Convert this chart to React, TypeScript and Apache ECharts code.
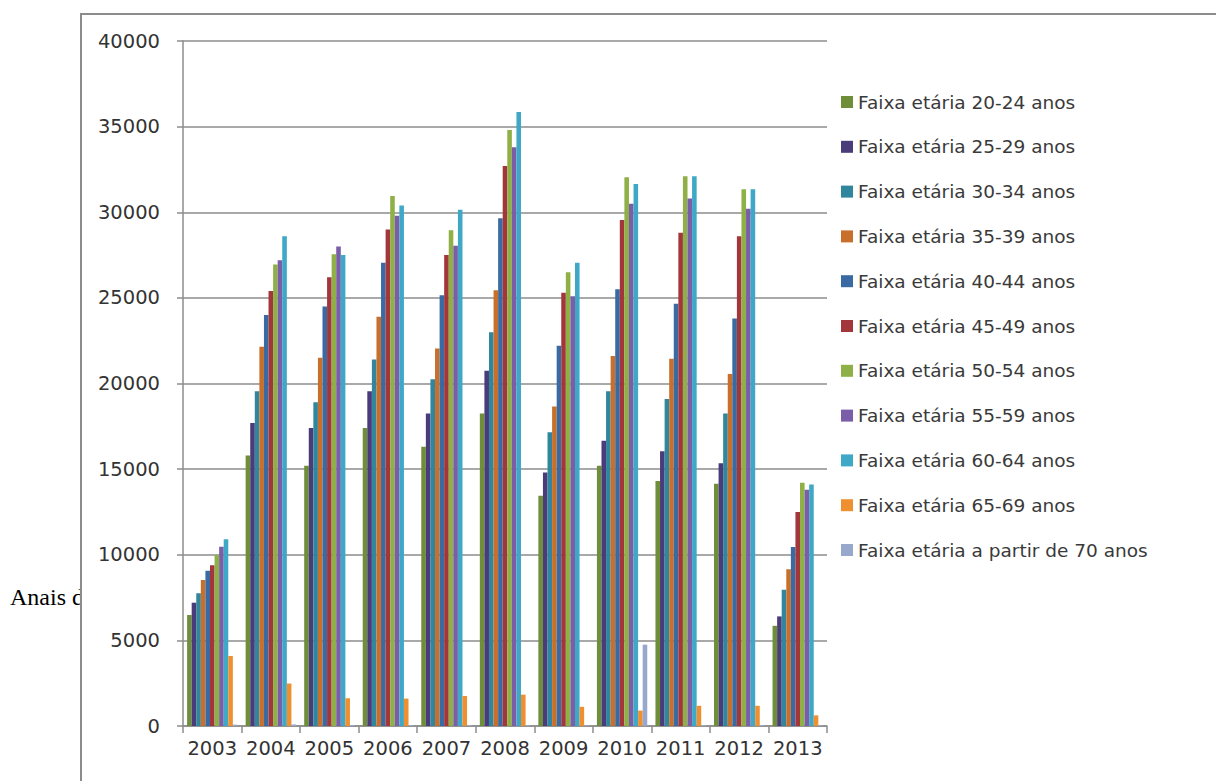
import React, { useEffect, useRef } from "react";
import * as echarts from "echarts";

// Years on the category axis
const years = ["2003", "2004", "2005", "2006", "2007", "2008", "2009", "2010", "2011", "2012", "2013"];

// Age-group series names
const seriesNames = [
  "Faixa etária 20-24 anos",
  "Faixa etária 25-29 anos",
  "Faixa etária 30-34 anos",
  "Faixa etária 35-39 anos",
  "Faixa etária 40-44 anos",
  "Faixa etária 45-49 anos",
  "Faixa etária 50-54 anos",
  "Faixa etária 55-59 anos",
  "Faixa etária 60-64 anos",
  "Faixa etária 65-69 anos",
  "Faixa etária a partir de 70 anos",
];

// Values per age group, one entry per year
const age20_24 = [6480, 15800, 15200, 17400, 16300, 18250, 13450, 15200, 14300, 14150, 5850];
const age25_29 = [7200, 17700, 17400, 19550, 18250, 20750, 14800, 16650, 16050, 15350, 6400];
const age30_34 = [7750, 19550, 18900, 21400, 20250, 23000, 17150, 19550, 19100, 18250, 7950];
const age35_39 = [8520, 22150, 21500, 23900, 22050, 25450, 18650, 21600, 21450, 20550, 9150];
const age40_44 = [9070, 24000, 24500, 27050, 25150, 29650, 22200, 25500, 24650, 23800, 10450];
const age45_49 = [9380, 25400, 26200, 29000, 27500, 32700, 25300, 29550, 28800, 28600, 12500];
const age50_54 = [9980, 26950, 27550, 30950, 28950, 34800, 26500, 32050, 32100, 31350, 14200];
const age55_59 = [10470, 27200, 28000, 29800, 28050, 33800, 25100, 30500, 30800, 30200, 13800];
const age60_64 = [10900, 28600, 27500, 30400, 30150, 35850, 27050, 31650, 32100, 31350, 14100];
const age65_69 = [4090, 2480, 1620, 1600, 1750, 1830, 1120, 900, 1180, 1180, 620];
const age70plus = [80, 90, 60, 60, 60, 60, 40, 4750, 60, 60, 40];

const seriesValues = [
  age20_24, age25_29, age30_34, age35_39, age40_44, age45_49,
  age50_54, age55_59, age60_64, age65_69, age70plus,
];

// Y axis ticks
const yMin = 0;
const yMax = 40000;
const yStep = 5000;

const palette = [
  "#6f8e3a", // 20-24
  "#4a3b7a", // 25-29
  "#2f869d", // 30-34
  "#c96f2c", // 35-39
  "#3a6aa2", // 40-44
  "#a3363a", // 45-49
  "#8fb046", // 50-54
  "#7a5ea8", // 55-59
  "#3ea8c6", // 60-64
  "#ee9030", // 65-69
  "#98a8cc", // 70+
];

const FONT = "DejaVu Sans";

export default function App() {
  const ref = useRef<HTMLDivElement>(null);

  useEffect(() => {
    if (!ref.current) return;
    const chart = echarts.init(ref.current, null, { renderer: "svg" });

    const series = seriesNames.map((name, i) => ({
      name,
      type: "bar",
      data: seriesValues[i],
      barGap: "0%",
      barCategoryGap: "14%",
      itemStyle: { color: palette[i] },
    }));

    chart.setOption({
      animation: false,
      backgroundColor: "#ffffff",
      textStyle: { fontFamily: FONT },
      graphic: [
        {
          type: "text",
          z: -20,
          left: 10,
          top: 585,
          style: {
            text: "Anais do",
            font: "24px 'Liberation Serif'",
            fill: "#000000",
          },
        },
        {
          type: "rect",
          z: -10,
          shape: { x: 81, y: 14, width: 1200, height: 800 },
          style: { fill: "#ffffff", stroke: "#8c8c8c", lineWidth: 2 },
        },
      ],
      grid: { left: 183, top: 41, right: 389, bottom: 55, containLabel: false },
      legend: {
        orient: "vertical",
        left: 836,
        top: 87,
        icon: "rect",
        itemWidth: 12,
        itemHeight: 12,
        itemGap: 24.8,
        textStyle: { fontFamily: FONT, fontSize: 18.5, color: "#3a3a3a", lineHeight: 20 },
        data: seriesNames,
      },
      xAxis: {
        type: "category",
        data: years,
        axisLine: { lineStyle: { color: "#8c8c8c", width: 1.5 } },
        axisTick: { show: true, length: 7, lineStyle: { color: "#8c8c8c", width: 1.5 } },
        axisLabel: { interval: 0, fontFamily: FONT, fontSize: 19.5, color: "#333333", margin: 12 },
        splitLine: { show: false },
      },
      yAxis: {
        type: "value",
        min: yMin,
        max: yMax,
        interval: yStep,
        axisLine: { show: true, lineStyle: { color: "#8c8c8c", width: 1.5 } },
        axisTick: { show: true, length: 6, lineStyle: { color: "#8c8c8c", width: 1.5 } },
        axisLabel: {
          fontFamily: FONT,
          fontSize: 19.5,
          color: "#333333",
          margin: 23,
          formatter: (v: number) => String(v),
        },
        splitLine: { show: true, lineStyle: { color: "#8c8c8c", width: 1.5 } },
      },
      series,
    });

    return () => chart.dispose();
  }, []);

  return (
    <div
      ref={ref}
      style={{ position: "absolute", left: 0, top: 0, width: 1216, height: 781 }}
    />
  );
}
